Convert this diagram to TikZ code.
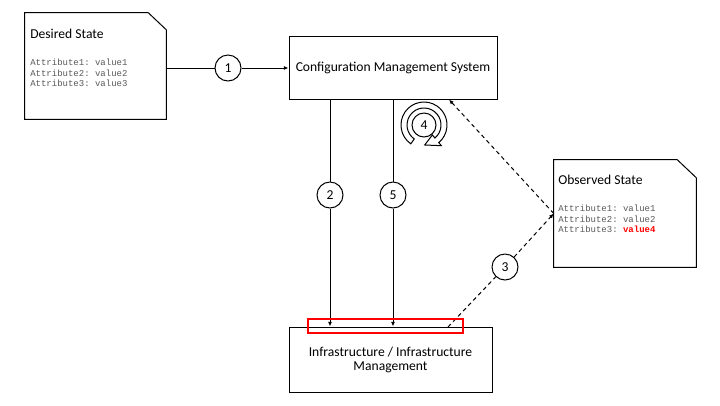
\documentclass[tikz,border=0pt]{standalone}
\usepackage{fontspec}
\setmainfont{Carlito}
\setmonofont{Liberation Mono}
\usetikzlibrary{arrows.meta,calc}
\definecolor{monogray}{RGB}{90,90,90}
\begin{document}
\begin{tikzpicture}[x=0.75pt,y=-0.75pt,
  every node/.style={font=\fontsize{10.2}{10.5}\selectfont},
  line/.style={draw=black,line width=0.75pt},
  arr/.style={line,-{Latex[length=3.5pt,width=3pt]}},
  darr/.style={arr,dash pattern=on 3pt off 2.5pt},
  dline/.style={line,dash pattern=on 3pt off 2.5pt},
  box/.style={line,rectangle,inner sep=0pt,align=center},
  hidden/.style={rectangle,inner sep=0pt},
  num/.style={line,circle,fill=white,inner sep=0pt,minimum size=19.5pt},
  title/.style={anchor=base west,inner sep=0pt},
  mono/.style={anchor=north west,inner sep=0pt,align=left,text=monogray,
    font=\ttfamily\fontsize{6.75}{7.9}\selectfont}
]
\useasboundingbox[fill=white] (0,0) rectangle (720,405);

% boxes
\node[hidden,minimum width=105.75pt,minimum height=79.5pt] (ds) at (95.5,66) {};
\draw[line] (ds.south west) -- (ds.north west) -- ($(ds.north east)+(-18,0)$)
  -- ($(ds.north east)+(0,17)$) -- (ds.south east) -- cycle;
\node[title] (dst) at (30,38) {Desired State};
\node[mono] (dsm) at (30,59) {Attribute1: value1\\Attribute2: value2\\Attribute3: value3};

\node[box,minimum width=156pt,minimum height=47.25pt] (cms) at (393,67.5) {Configuration Management System};
\node[box,minimum width=152.25pt,minimum height=48.75pt] (infra) at (390.5,359.5) {Infrastructure / Infrastructure\\Management};

\node[hidden,minimum width=106.5pt,minimum height=80.25pt] (obs) at (625,213.5) {};
\draw[line] (obs.south west) -- (obs.north west) -- ($(obs.north east)+(-19,0)$)
  -- ($(obs.north east)+(0,18)$) -- (obs.south east) -- cycle;
\node[title] (obst) at (558,184) {Observed State};
\node[mono] (obsm) at (558,205) {Attribute1: value1\\Attribute2: value2\\Attribute3: \textcolor{red}{\textbf{value4}}};

% numbered circles
\node[num] (c1) at (228,68) {1};
\node[num] (c2) at (330,195) {2};
\node[num] (c5) at (393,195) {5};
\node[num] (c3) at (505,267) {3};
\node[num,minimum size=18pt] (c4) at (424,125) {4};

% connectors
\draw[line] (ds.east |- c1) -- (c1);
\draw[arr] (c1) -- (cms.west |- c1);
\draw[line] (cms.south -| c2) -- (c2);
\draw[arr] (c2) -- (c2 |- infra.north);
\draw[line] (cms.south -| c5) -- (c5);
\draw[arr] (c5) -- (c5 |- infra.north);

\coordinate (s3) at (448,327);
\draw[dline] (s3) -- (c3);
\draw[darr] (c3) -- (obs.west);
\draw[darr] (obs.west) -- (cms.south -| 449,0);

% red highlight
\node[draw=red,line width=1.5pt,rectangle,inner sep=0pt,minimum width=116.25pt,minimum height=10.5pt] (hl) at (385.5,326) {};

% circular arrow around 4
\begin{scope}[shift={(c4)},x=0.75pt,y=0.75pt]
\draw[line,fill=white,line join=miter]
  (235:23) arc[start angle=235,end angle=-50,radius=23]
  -- (-50:27) -- (-88:20) -- (-50:13) -- (-50:17)
  arc[start angle=-50,end angle=235,radius=17] -- cycle;
\end{scope}
\end{tikzpicture}
\end{document}
